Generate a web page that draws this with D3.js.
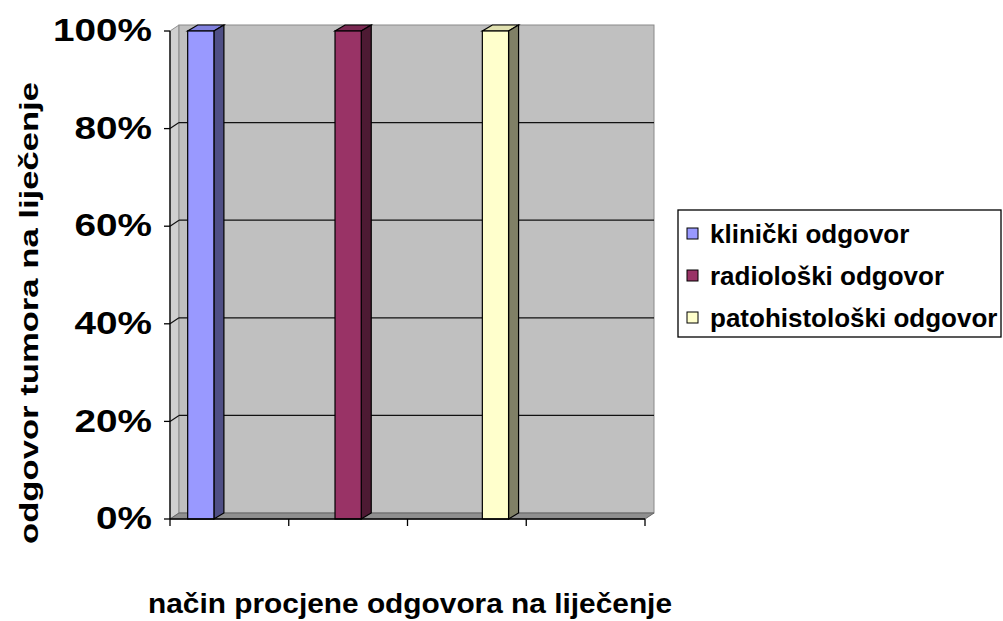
<!DOCTYPE html>
<html>
<head>
<meta charset="utf-8">
<script src="https://cdn.jsdelivr.net/npm/d3@7"></script>
<style>
  body { margin: 0; background: #fff; }
  text { font-family: "Liberation Sans", Arial, sans-serif; font-weight: bold; fill: #000; }
</style>
</head>
<body>
<div id="chart"></div>
<script>
// chart data
const series = ["klinički odgovor", "radiološki odgovor", "patohistološki odgovor"];
const values = [1, 1, 1];
const categorySlots = [0, 1, 2, 3, 4];
const yTicks = [0, 0.2, 0.4, 0.6, 0.8, 1];
const frontColors = ["#9999FF", "#993366", "#FFFFCC"];
const sideColors = ["#4f4f85", "#4d1a33", "#808066"];
const topColors = ["#8080dd", "#7a2952", "#e0e0b0"];

const W = 1003, H = 621;
const svg = d3.select("#chart").append("svg")
    .attr("width", W).attr("height", H);

// 3d depth of walls and bars
const wdx = 9, wdy = -6;
const bdx = 10, bdy = -6;

const x = d3.scaleLinear().domain([0, 4]).range([170, 645]);
const y = d3.scaleLinear().domain([0, 1]).range([519, 31]);
const xs = d3.scaleBand().domain(series)
    .range([x(0), x(3)])
    .paddingInner(0.822)
    .paddingOuter(0.12);

const poly = pts => pts.map(p => p.join(",")).join(" ");

// side wall
svg.append("polygon")
    .attr("points", poly([[x(0), y(0)], [x(0) + wdx, y(0) + wdy], [x(0) + wdx, y(1) + wdy], [x(0), y(1)]]))
    .attr("fill", "#d0d0d0").attr("stroke", "#909090");

// back wall
svg.append("rect")
    .attr("x", x(0) + wdx).attr("y", y(1) + wdy)
    .attr("width", x(4) - x(0)).attr("height", y(0) - y(1))
    .attr("fill", "#c0c0c0").attr("stroke", "#8a8a8a");

// floor
svg.append("polygon")
    .attr("points", poly([[x(0), y(0)], [x(4), y(0)], [x(4) + wdx, y(0) + wdy], [x(0) + wdx, y(0) + wdy]]))
    .attr("fill", "#8f8f8f").attr("stroke", "#666");

// gridlines
const grid = svg.append("g");
yTicks.filter(t => t > 0 && t < 1).forEach(t => {
    grid.append("line")
        .attr("x1", x(0)).attr("y1", y(t))
        .attr("x2", x(0) + wdx).attr("y2", y(t) + wdy)
        .attr("stroke", "#111").attr("stroke-width", 1.2);
    grid.append("line")
        .attr("x1", x(0) + wdx).attr("y1", y(t) + wdy)
        .attr("x2", x(4) + wdx).attr("y2", y(t) + wdy)
        .attr("stroke", "#111").attr("stroke-width", 1.2);
});

// bars
const bars = svg.append("g").selectAll("g")
    .data(series.map((s, i) => ({ s, v: values[i], i })))
    .join("g");

bars.append("polygon") // top
    .attr("points", d => {
        const x0 = xs(d.s), x1 = x0 + xs.bandwidth(), yt = y(d.v);
        return poly([[x0, yt], [x1, yt], [x1 + bdx, yt + bdy], [x0 + bdx, yt + bdy]]);
    })
    .attr("fill", d => topColors[d.i]).attr("stroke", "#000").attr("stroke-width", 1.2);

bars.append("polygon") // side
    .attr("points", d => {
        const x1 = xs(d.s) + xs.bandwidth();
        return poly([[x1, y(d.v)], [x1 + bdx, y(d.v) + bdy], [x1 + bdx, y(0) + bdy], [x1, y(0)]]);
    })
    .attr("fill", d => sideColors[d.i]).attr("stroke", "#000").attr("stroke-width", 1.2);

bars.append("rect") // front
    .attr("x", d => xs(d.s)).attr("y", d => y(d.v))
    .attr("width", xs.bandwidth()).attr("height", d => y(0) - y(d.v))
    .attr("fill", d => frontColors[d.i]).attr("stroke", "#000").attr("stroke-width", 1.2);

// axes
svg.append("line")
    .attr("x1", x(0)).attr("x2", x(0)).attr("y1", y(1)).attr("y2", y(0))
    .attr("stroke", "#000").attr("stroke-width", 1.3);
svg.append("line")
    .attr("x1", x(0)).attr("x2", x(4)).attr("y1", y(0)).attr("y2", y(0))
    .attr("stroke", "#000").attr("stroke-width", 1.3);

svg.append("g").selectAll("line")
    .data(categorySlots).join("line")
    .attr("x1", d => x(d)).attr("x2", d => x(d))
    .attr("y1", y(0)).attr("y2", y(0) + 7)
    .attr("stroke", "#000").attr("stroke-width", 1.3);

const yAxis = svg.append("g").selectAll("g")
    .data(yTicks).join("g")
    .attr("transform", d => `translate(0,${y(d)})`);
yAxis.append("line")
    .attr("x1", x(0) - 6).attr("x2", x(0))
    .attr("stroke", "#000").attr("stroke-width", 1.3);
yAxis.append("text")
    .attr("transform", "translate(152,0) scale(1.25,1)")
    .attr("text-anchor", "end")
    .attr("dy", "0.33em")
    .style("font-size", "31px")
    .text(d => d3.format(".0%")(d));

// axis titles
svg.append("text")
    .attr("x", 410).attr("y", 613)
    .attr("text-anchor", "middle")
    .attr("textLength", 524).attr("lengthAdjust", "spacingAndGlyphs")
    .style("font-size", "28px")
    .text("način procjene odgovora na liječenje");

svg.append("text")
    .attr("transform", "translate(38,313) rotate(-90)")
    .attr("text-anchor", "middle")
    .attr("textLength", 462).attr("lengthAdjust", "spacingAndGlyphs")
    .style("font-size", "26px")
    .text("odgovor tumora na liječenje");

// legend
const legend = svg.append("g");
legend.append("rect")
    .attr("x", 678).attr("y", 210).attr("width", 323).attr("height", 127)
    .attr("fill", "#fff").attr("stroke", "#000").attr("stroke-width", 1.3);

const items = legend.selectAll("g.item")
    .data(series).join("g")
    .attr("class", "item")
    .attr("transform", (d, i) => `translate(687,${234 + i * 42})`);
items.append("rect")
    .attr("x", 0).attr("y", -6).attr("width", 11).attr("height", 11)
    .attr("fill", (d, i) => frontColors[i]).attr("stroke", "#000");
items.append("text")
    .attr("x", 23).attr("dy", "0.36em")
    .style("font-size", "26px")
    .text(d => d);
</script>
</body>
</html>
